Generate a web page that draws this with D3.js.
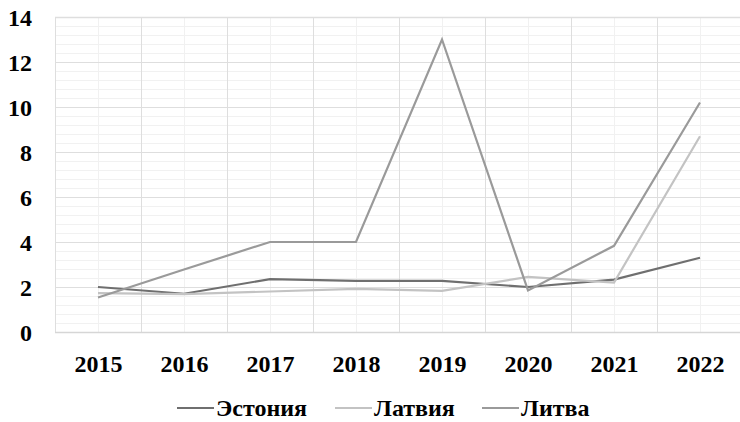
<!DOCTYPE html>
<html><head><meta charset="utf-8">
<script src="https://cdn.jsdelivr.net/npm/d3@7"></script>
<style>body{margin:0;background:#fff}svg{display:block}.ser{font-family:'Liberation Serif';font-weight:bold}</style>
</head><body><svg id="c" width="740" height="422"></svg>
<script>
const years = ["2015","2016","2017","2018","2019","2020","2021","2022"];
const estonia   = [2.0, 1.7, 2.35, 2.27, 2.27, 2.0, 2.33, 3.3];
const latvia    = [1.73, 1.68, 1.8, 1.92, 1.83, 2.45, 2.2, 8.7];
const lithuania = [1.53, 2.78, 4.0, 4.0, 13.0, 1.85, 3.83, 10.2];
const seriesNames = ["Эстония","Латвия","Литва"];
const yTicks = [0,2,4,6,8,10,12,14];

(function(){
  const colors = ["#6f6f6f","#c3c3c3","#9a9a9a"];
  const series = [estonia, latvia, lithuania];
  const svg = d3.select("#c");
  const L=55, R=743, T=17, B=332;
  const band = d3.scaleBand().domain(years).range([L,R]).padding(0);
  const xs = d3.scalePoint().domain(years).range([L,R]).padding(0.5);
  const ys = d3.scaleLinear().domain([0,14]).range([B,T]);
  const setFont = (sel,size)=>sel.attr("class","ser").attr("font-family","Liberation Serif")
    .attr("font-weight","bold").attr("font-size",size).attr("fill","#000");

  const minor = d3.range(0,14.0001,0.4).filter(v=>Math.abs(v/2-Math.round(v/2))>1e-6);
  svg.append("g").selectAll("line").data(minor).join("line")
    .attr("x1",L).attr("x2",R).attr("y1",d=>Math.round(ys(d))+0.5).attr("y2",d=>Math.round(ys(d))+0.5)
    .attr("stroke","#f1f1f1").attr("stroke-width",1);
  svg.append("g").selectAll("line").data(years).join("line")
    .attr("x1",d=>Math.round(xs(d))+0.5).attr("x2",d=>Math.round(xs(d))+0.5).attr("y1",T).attr("y2",B)
    .attr("stroke","#f1f1f1").attr("stroke-width",1);
  svg.append("g").selectAll("line").data(yTicks).join("line")
    .attr("x1",L).attr("x2",R).attr("y1",d=>Math.round(ys(d))+0.5).attr("y2",d=>Math.round(ys(d))+0.5)
    .attr("stroke","#dedede").attr("stroke-width",1);
  svg.append("g").selectAll("line").data(years).join("line")
    .attr("x1",d=>Math.round(band(d))+0.5).attr("x2",d=>Math.round(band(d))+0.5).attr("y1",T).attr("y2",B)
    .attr("stroke","#dedede").attr("stroke-width",1);
  svg.append("line").attr("x1",L).attr("x2",R).attr("y1",T+0.5).attr("y2",T+0.5).attr("stroke","#dedede").attr("stroke-width",1.5);
  svg.append("line").attr("x1",L).attr("x2",R).attr("y1",B+0.5).attr("y2",B+0.5).attr("stroke","#d6d6d6").attr("stroke-width",1.5);

  const gy = svg.append("g").attr("transform","translate(32,0)")
    .call(d3.axisLeft(ys).tickValues(yTicks).tickSize(0).tickPadding(0))
    .attr("font-family","Liberation Serif").attr("font-size",24).attr("font-weight","bold");
  gy.select(".domain").remove();
  gy.selectAll("text").call(setFont,24).attr("dy","0.35em");
  const gx = svg.append("g").attr("transform",`translate(0,${B})`)
    .call(d3.axisBottom(xs).tickSize(0).tickPadding(0))
    .attr("font-family","Liberation Serif").attr("font-size",24).attr("font-weight","bold");
  gx.select(".domain").remove();
  gx.selectAll("text").call(setFont,24).attr("y",40).attr("dy","0");

  const lineGen = d3.line().x((d,i)=>xs(years[i])).y(d=>ys(d));
  series.forEach((s,k)=>{
    svg.append("path").datum(s).attr("d",lineGen).attr("fill","none")
      .attr("stroke",colors[k]).attr("stroke-width",2.2).attr("stroke-linejoin","miter");
  });

  const legendX = [177, 335, 482];
  const lg = svg.append("g").attr("transform","translate(0,408)");
  seriesNames.forEach((n,k)=>{
    const g = lg.append("g").attr("transform",`translate(${legendX[k]},0)`);
    g.append("line").attr("x1",0).attr("x2",37).attr("y1",0).attr("y2",0).attr("stroke",colors[k]).attr("stroke-width",2.2);
    g.append("text").attr("x",39).attr("y",8).call(setFont,24).text(n);
  });
})();
</script></body></html>
